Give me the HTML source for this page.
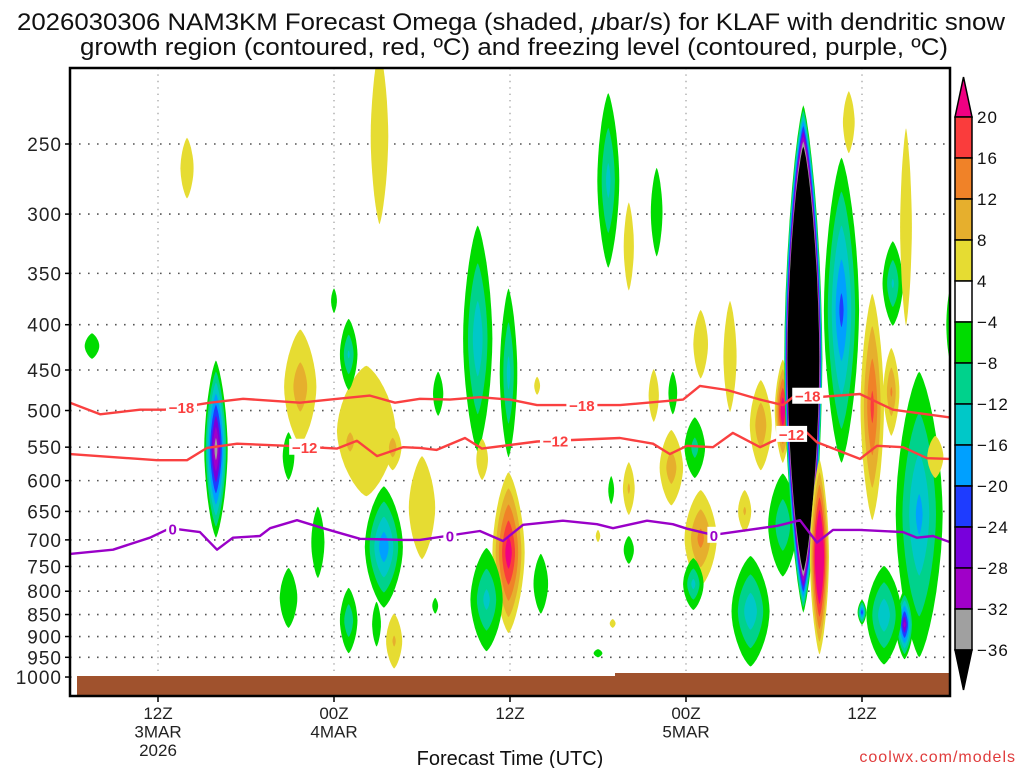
<!DOCTYPE html>
<html><head><meta charset="utf-8"><style>
html,body{margin:0;padding:0;background:#fff;}
svg{display:block;font-family:"Liberation Sans",sans-serif;}
</style></head><body>
<svg id="chart" width="1024" height="768" viewBox="0 0 1024 768" xmlns="http://www.w3.org/2000/svg">
<defs><clipPath id="plotclip"><rect x="70" y="68" width="880" height="628"/></clipPath></defs>
<rect x="0" y="0" width="1024" height="768" fill="#fff"/>
<g fill="#111" font-size="24">
<text x="17" y="30" textLength="988" lengthAdjust="spacingAndGlyphs">2026030306 NAM3KM Forecast Omega (shaded, <tspan font-style="italic">μ</tspan>bar/s) for KLAF with dendritic snow</text>
<text x="80" y="55" textLength="868" lengthAdjust="spacingAndGlyphs">growth region (contoured, red, ºC) and freezing level (contoured, purple, ºC)</text>
</g>
<g id="grid"></g>
<g id="shade" clip-path="url(#plotclip)"></g>
<g id="ground" clip-path="url(#plotclip)"></g>
<g id="lines" clip-path="url(#plotclip)"></g>
<rect x="70" y="68" width="880" height="628" fill="none" stroke="#000" stroke-width="2.5"/>
<g id="yaxis"></g>
<g id="xaxis"></g>
<text x="510" y="765" font-size="20" text-anchor="middle" fill="#111">Forecast Time (UTC)</text>
<text x="1016" y="762" font-size="16" text-anchor="end" fill="#e03c3c" letter-spacing="1">coolwx.com/models</text>
<g id="cbar"></g>
</svg>
<script>
// ---- data ----
const pressureTicks = [250,300,350,400,450,500,550,600,650,700,750,800,850,900,950,1000];
const timeTickHours = [6,18,30,42,54];
const timeTickLabels = [["12Z","3MAR","2026"],["00Z","4MAR"],["12Z"],["00Z","5MAR"],["12Z"]];
const posLevels = [4,8,12,16,20];
const posColors = ["#e6dc32","#e6af2d","#f08228","#fa3c3c","#f00082"];
const negLevels = [-4,-8,-12,-16,-20,-24,-28,-32,-36];
const negColors = ["#00dc00","#00d28c","#00c8c8","#00a0ff","#1e3cff","#7800dc","#a000c8","#a0a0a0","#000000"];
const cbarLabels = ["20","16","12","8","4","\u22124","\u22128","\u221212","\u221216","\u221220","\u221224","\u221228","\u221232","\u221236"];
// omega cells: [centre hour, half-width hours, top hPa, bottom hPa, peak μbar/s]
const omegaCells = [
[7.98,0.45,246,288,6],[1.5,0.5,409,437,-6],[9.95,0.8,439,696,-36],[21.1,0.6,195,308,6],
[15.7,1.1,405,546,11],[20.2,2.0,445,625,8],[19.1,0.6,512,575,11],[22.0,0.6,519,584,11],
[24.0,0.9,563,736,6],[19.0,0.6,394,474,-13],[18.0,0.2,364,388,-5],[25.1,0.35,452,507,-6],
[14.9,0.4,529,599,-6],[21.4,1.3,609,835,-20],[16.9,0.45,642,773,-6],[14.9,0.6,753,880,-6],
[19.0,0.6,793,940,-12],[20.9,0.3,822,924,-6],[22.1,0.55,848,978,9],[24.9,0.2,814,848,-5],
[27.8,1.0,309,557,-16],[29.9,0.6,364,565,-14],[31.85,0.2,458,480,5],[28.1,0.4,538,599,6],
[29.9,1.1,587,892,24],[28.4,1.1,715,935,-14],[32.1,0.5,726,848,-7],[36.7,0.75,219,345,-14],
[38.1,0.35,291,366,6],[40.0,0.4,266,335,-7],[43.0,0.5,385,460,6],[45.0,0.45,376,502,6],
[39.8,0.35,449,515,6],[41.1,0.3,452,505,-6],[42.6,0.7,509,596,-10],[41.0,0.8,526,640,11],
[43.0,1.1,615,790,14],[38.1,0.4,572,656,9],[36.9,0.2,593,638,-5],[46.0,0.45,615,686,9],
[42.5,0.7,734,840,-14],[46.4,1.3,730,973,-16],[38.1,0.35,693,745,-6],[36.0,0.15,682,704,5],
[37.0,0.2,860,880,5],[36.0,0.3,930,950,-5],
[47.1,0.75,462,584,12],[48.6,0.55,438,573,26],[48.6,1.0,589,770,-12],[52.6,1.2,259,573,-22],
[53.1,0.4,218,256,6],[54.7,0.8,369,665,18],[56.1,0.7,322,401,-13],[57.0,0.4,240,401,6],
[56.0,0.55,425,534,13],[57.9,1.6,452,950,-18],[56.9,0.6,797,955,-30],[55.5,1.2,749,968,-16],
[54.0,0.3,818,873,-24],[59.0,0.55,534,596,6],[60.0,0.25,365,439,-6],
[50.0,1.3,226,846,-200],[51.1,0.65,568,943,35]
];
const line18Hours = [0,2.05,4.77,6.48,9.55,11.8,15.68,17.73,20.45,22.16,23.86,25.9,27.95,30,31.84,37.5,41.8,42.95,44.8,47.05,48.6,49.57,50.93,53.86,56.11,60];
const line18P = [490,505,499,499,490,485,490,486,481,490,485,486,483,486,493,493,486,469,474,486,493,479,483,479,499,509];
const line12Hours = [0,5.93,7.98,9.34,11.39,14.8,18.2,19.57,20.93,22.7,23.86,25.0,26.93,28.09,31.84,37.5,39.75,40.9,42.07,43.84,45.2,47.05,47.86,50.0,50.93,53.86,55.02,56.8,58.43,60];
const line12P = [560,569,569,551,545,548,552,541,563,550,551,554,537,552,542,537,545,560,548,550,530,550,542,525,543,567,548,550,566,567];
const line0Hours = [0,2.93,5.45,6.82,8.86,10.02,11.11,12.95,13.64,15.48,17.25,19.77,22.7,23.86,27.95,29.52,30.89,33.61,35.93,37.02,39.34,41.1,42.07,43.84,48.2,49.77,50.93,52.02,53.86,56.8,57.75,58.84,60];
const line0P = [726,718,696,679,686,718,696,693,679,665,679,698,700,700,684,702,673,666,672,679,666,672,680,691,675,665,705,682,682,686,696,693,704];
const line18Labels = [[7.6,"\u221218"],[34.9,"\u221218"],[50.3,"\u221218"]];
const line12Labels = [[16.0,"\u221212"],[33.1,"\u221212"],[49.2,"\u221212"]];
const line0Labels = [[7.0,"0"],[25.9,"0"],[43.9,"0"]];

// ---- scales ----
const X0=70, X1=950, Y0=68, Y1=696;
function xh(h){ return X0 + h*(880/60); }
function yp(p){ return 144 + 384.5*Math.log(p/250); }
const NS="http://www.w3.org/2000/svg";
function mk(tag, attrs, parent){ const e=document.createElementNS(NS,tag); for(const k in attrs) e.setAttribute(k,attrs[k]); parent.appendChild(e); return e; }

// grid
const grid=document.getElementById('grid');
pressureTicks.forEach(p=>{
  const y=yp(p);
  const gl=mk('line',{x1:X0,x2:X1,y1:y,y2:y,stroke:'#555','stroke-width':1.6,'stroke-dasharray':'1.6 7.4'},grid);
  
  
});
timeTickHours.forEach(h=>{
  const x=xh(h);
  const gl=mk('line',{x1:x,x2:x,y1:Y0,y2:Y1,stroke:'#aaa','stroke-width':1.4,'stroke-dasharray':'1.4 5'},grid);
  
  
});

// shading
function lensPath(cx,cy,rx,ry){
  const e=1.5, n=40; let d='';
  for(let i=0;i<n;i++){
    const t=i/n*2*Math.PI, c=Math.cos(t), s=Math.sin(t);
    const px=cx+rx*Math.sign(c)*Math.pow(Math.abs(c),e);
    const py=cy+ry*Math.sign(s)*Math.pow(Math.abs(s),1.15);
    d+=(i?'L':'M')+px.toFixed(1)+' '+py.toFixed(1);
  }
  return d+'Z';
}
const shade=document.getElementById('shade');
omegaCells.forEach(c=>{
  const [h,hw,pt,pb,peak]=c;
  const cx=xh(h), yt=yp(pt), yb=yp(pb), cy=(yt+yb)/2, ry=(yb-yt)/2, rx=hw*880/60;
  const lv = peak>0?posLevels:negLevels, col = peak>0?posColors:negColors;
  const g=mk('g',{},shade);
  
  
  for(let i=0;i<lv.length;i++){
    const L=lv[i];
    if(Math.abs(L)>Math.abs(peak)) break;
    const s=(1-L/peak)/(1-lv[0]/peak);
    if(s<=0.02) continue;
    const pth=mk('path',{d:lensPath(cx,cy,rx*Math.max(s,0.12),ry*s),fill:col[i]},g);
    
    
  }
});

// ground
const ground=document.getElementById('ground');
const gr1=mk('rect',{x:77,y:676,width:873,height:22,fill:'#a0522d'},ground);


const gr2=mk('rect',{x:615,y:673,width:335,height:6,fill:'#a0522d'},ground);



// contour lines
const lines=document.getElementById('lines');
function drawLine(hours,ps,color,labels,name){
  const d=hours.map((h,i)=>(i?'L':'M')+xh(h).toFixed(1)+' '+yp(ps[i]).toFixed(1)).join('');
  const pl=mk('path',{d:d,fill:'none',stroke:color,'stroke-width':2.4,'stroke-linejoin':'round'},lines);
  
  
  labels.forEach(lb=>{
    const h=lb[0];
    let p=ps[0];
    for(let i=1;i<hours.length;i++){ if(hours[i]>=h){ const f=(h-hours[i-1])/(hours[i]-hours[i-1]); p=ps[i-1]+f*(ps[i]-ps[i-1]); break; } }
    const x=xh(h), y=yp(p);
    const w=lb[1].length*9+4;
    const bg=mk('rect',{x:x-w/2,y:y-8,width:w,height:16,fill:'#fff'},lines);
    
    
    const t=mk('text',{x:x,y:y+6,'text-anchor':'middle','font-size':15,'font-weight':'bold',fill:color},lines);
    
    
    t.textContent=lb[1];
  });
}
drawLine(line18Hours,line18P,'#fa4040',line18Labels,'minus18c-isotherm');
drawLine(line12Hours,line12P,'#fa4040',line12Labels,'minus12c-isotherm');
drawLine(line0Hours,line0P,'#9a00c8',line0Labels,'freezing-level-line');

// y axis
const yaxis=document.getElementById('yaxis');
pressureTicks.forEach(p=>{
  const y=yp(p);
  const tk=mk('line',{x1:X0-5,x2:X0,y1:y,y2:y,stroke:'#000','stroke-width':1.5},yaxis);
  
  
  const t=mk('text',{x:X0-8,y:y+7,'text-anchor':'end','font-size':19,fill:'#222','letter-spacing':'1'},yaxis);
  
  
  t.textContent=String(p);
});
// x axis
const xaxis=document.getElementById('xaxis');
timeTickHours.forEach((h,i)=>{
  const x=xh(h);
  const tk=mk('line',{x1:x,x2:x,y1:Y1,y2:Y1+6,stroke:'#000','stroke-width':1.5},xaxis);
  
  
  timeTickLabels[i].forEach((s,j)=>{
    const t=mk('text',{x:x,y:719+j*18.5,'text-anchor':'middle','font-size':17,fill:'#222'},xaxis);
    
    
    t.textContent=s;
  });
});

// colorbar
const cb=document.getElementById('cbar');
const cbColors=posColors.slice(0,4).reverse().concat(['#ffffff']).concat(negColors.slice(0,8));
const CX=955, CW=17, CT=117, CH=41;
const topTri=mk('path',{d:`M${CX} ${CT}L${CX+CW/2} 77L${CX+CW} ${CT}Z`,fill:'#f00082',stroke:'#000','stroke-width':1.5},cb);


cbColors.forEach((c,i)=>{
  const r=mk('rect',{x:CX,y:CT+i*CH,width:CW,height:CH,fill:c,stroke:'#000','stroke-width':1.5},cb);
  
  
});
const botTri=mk('path',{d:`M${CX} ${CT+13*CH}L${CX+CW/2} 690L${CX+CW} ${CT+13*CH}Z`,fill:'#000',stroke:'#000','stroke-width':1.5},cb);


cbarLabels.forEach((s,i)=>{
  const t=mk('text',{x:977,y:CT+i*CH+6,'font-size':17,fill:'#111','letter-spacing':'1'},cb);
  
  
  t.textContent=s;
});
</script>
</body></html>
